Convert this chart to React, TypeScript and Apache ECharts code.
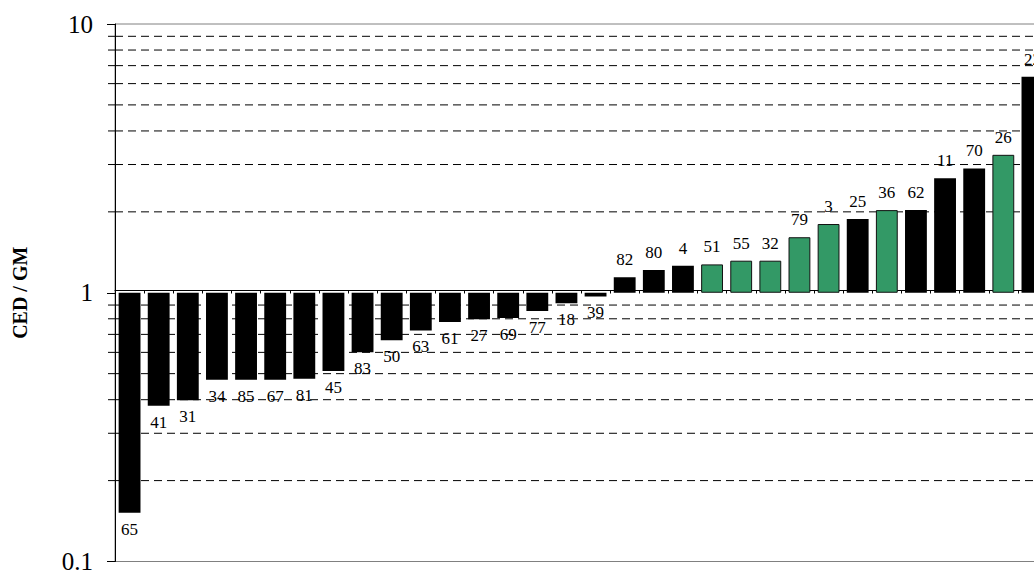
import React, { useEffect, useRef } from "react";
import * as echarts from "echarts";

const categories = ["65","41","31","34","85","67","81","45","83","50","63","61","27","69","77","18","39","82","80","4","51","55","32","79","3","25","36","62","11","70","26","22"];
const ratios = [0.152,0.380,0.398,0.475,0.475,0.475,0.479,0.512,0.601,0.665,0.724,0.779,0.797,0.806,0.855,0.913,0.969,1.142,1.216,1.261,1.275,1.316,1.316,1.609,1.802,1.880,2.03,2.03,2.665,2.90,3.26,6.37];
const greenIds = ["51","55","32","79","3","36","26"];
const gridValues = [2,3,4,5,6,7,8,9,0.2,0.3,0.4,0.5,0.6,0.7,0.8,0.9];

const FONT = "Liberation Serif, Times New Roman, serif";

export default function App() {
  const ref = useRef<HTMLDivElement>(null);
  useEffect(() => {
    if (!ref.current) return;
    const chart = echarts.init(ref.current, null, { renderer: "svg" });
    const barData = ratios.map((v, i) => {
      const green = greenIds.includes(categories[i]);
      const up = v >= 1;
      return {
        value: v,
        itemStyle: green
          ? { color: "#339966", borderColor: "#111", borderWidth: 1 }
          : { color: "#000" },
        label: { position: up ? "top" : "bottom", distance: up ? 9 : 8 },
      };
    });
    chart.setOption({
      animation: false,
      grid: {
        left: 115,
        top: 24,
        width: 932,
        bottom: 8,
        show: true,
        borderColor: "#808080",
        borderWidth: 1,
        backgroundColor: "transparent",
      },
      xAxis: [
        {
          type: "category",
          data: categories,
          axisLine: { show: false },
          axisTick: { show: false },
          axisLabel: { show: false },
          splitLine: { show: false },
        },
        {
          type: "category",
          data: categories,
          position: "bottom",
          offset: -271,
          axisLine: { show: true, lineStyle: { color: "#000", width: 1 } },
          axisTick: { show: true, length: 3, lineStyle: { color: "#000" } },
          axisLabel: { show: false },
          splitLine: { show: false },
        },
      ],
      yAxis: {
        type: "log",
        logBase: 10,
        min: 0.1,
        max: 10,
        name: "CED / GM",
        nameLocation: "middle",
        nameGap: 85,
        nameTextStyle: { fontFamily: FONT, fontSize: 20, fontWeight: "bold", color: "#000" },
        axisLine: { show: true, lineStyle: { color: "#000", width: 1 } },
        axisTick: { show: true, length: 8, lineStyle: { color: "#000" } },
        axisLabel: {
          fontFamily: FONT,
          fontSize: 25,
          color: "#000",
          margin: 22,
          formatter: (v: number) => (v < 1 ? String(Number(v.toFixed(1))) : String(Math.round(v))),
        },
        splitLine: { show: false },
      },
      series: [
        {
          type: "custom",
          z: 1,
          clip: false,
          silent: true,
          xAxisIndex: 0,
          encode: { x: 0, y: 1 },
          data: gridValues.map((v) => [0, v]),
          renderItem: (params: any, api: any) => {
            const y = api.coord([0, api.value(1)])[1];
            const cs = params.coordSys;
            return {
              type: "group",
              children: [
                { type: "line", shape: { x1: cs.x - 7, y1: y, x2: cs.x, y2: y }, style: { stroke: "#000", lineWidth: 1 } },
                { type: "line", shape: { x1: cs.x, y1: y, x2: cs.x + cs.width, y2: y }, style: { stroke: "#000", lineWidth: 1, lineDash: [8, 5] } },
              ],
            };
          },
        },
        {
          type: "bar",
          z: 3,
          xAxisIndex: 0,
          data: barData,
          barCategoryGap: "25%",
          label: {
            show: true,
            fontFamily: FONT,
            fontSize: 17,
            color: "#000",
            formatter: (p: any) => p.name,
          },
        },
      ],
    });
    return () => chart.dispose();
  }, []);
  return (
    <div style={{ position: "fixed", left: 0, top: 0, width: 1034, height: 574, overflow: "hidden", background: "#fff" }}>
      <div ref={ref} style={{ width: 1060, height: 574 }} />
    </div>
  );
}
